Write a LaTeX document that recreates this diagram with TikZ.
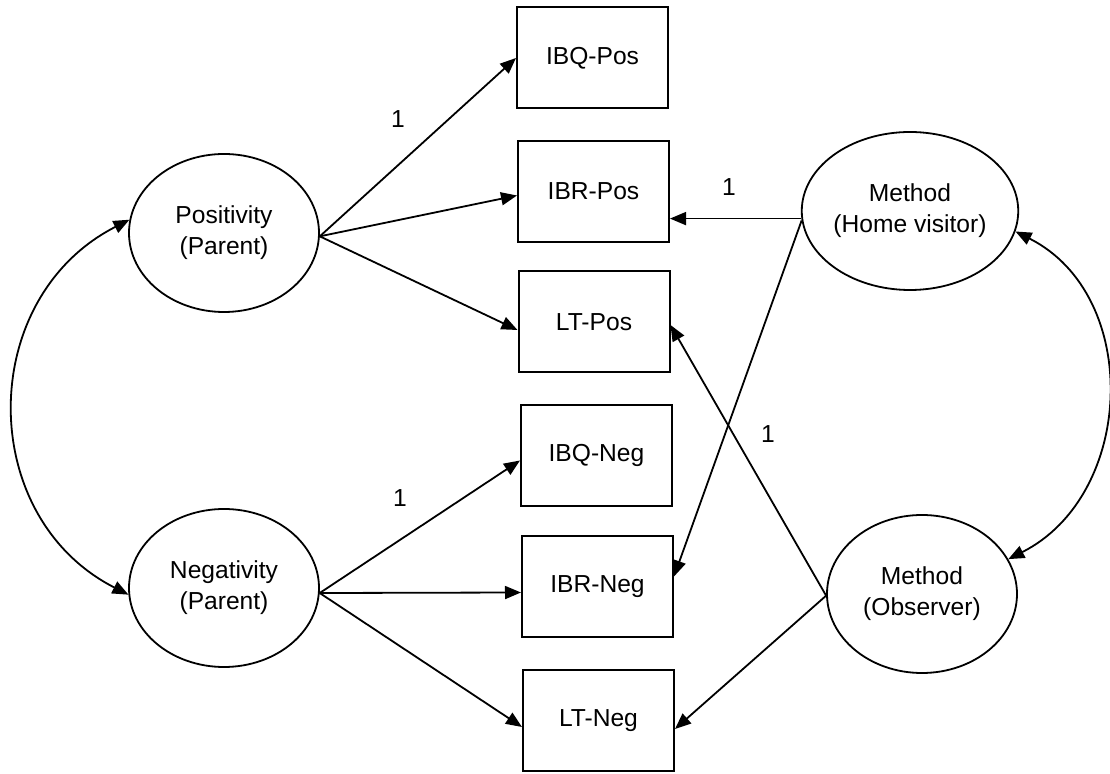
\documentclass[tikz,border=0pt]{standalone}
\usepackage{fontspec}
\setmainfont{Liberation Sans}
\usetikzlibrary{arrows.meta,calc,shapes.geometric}
\begin{document}
\begin{tikzpicture}[x=0.5pt,y=-0.5pt,
  latent/.style={ellipse, draw, line width=0.9pt, minimum width=95pt, minimum height=79pt, inner sep=0pt, align=center, font=\fontsize{12.3}{15.5}\selectfont},
  obsbox/.style={rectangle, draw, line width=1pt, minimum width=75.5pt, minimum height=50.5pt, inner sep=0pt, font=\fontsize{12.3}{15.5}\selectfont},
  link/.style={line width=0.9pt, -{Triangle[length=8pt,width=6.5pt]}},
  covar/.style={line width=0.9pt, {Triangle[length=8pt,width=6.5pt]}-{Triangle[length=8pt,width=6.5pt]}},
  lbl/.style={font=\fontsize{12.3}{15.5}\selectfont, inner sep=0pt}
]
\useasboundingbox (0,0) rectangle (1110,774);

% latent variables
\node[latent] (pos)  at (224,233) {Positivity\\(Parent)};
\node[latent] (neg)  at (224,588) {Negativity\\(Parent)};
\node[latent] (home) at (910,211) {Method\\(Home visitor)};
\node[latent] (obs)  at (922,594) {Method\\(Observer)};

% observed variables
\node[obsbox] (ibqp) at (592.5,58)   {IBQ-Pos};
\node[obsbox] (ibrp) at (593.5,191.5) {IBR-Pos};
\node[obsbox] (ltp)  at (594,322)    {LT-Pos};
\node[obsbox] (ibqn) at (596.5,455.5) {IBQ-Neg};
\node[obsbox] (ibrn) at (597.5,586.5) {IBR-Neg};
\node[obsbox] (ltn)  at (598.5,721)  {LT-Neg};

% loadings
\draw[link] (pos.-2) -- (ibqp.west);
\draw[link] (pos.-2) -- ($(ibrp.west)+(0,4)$);
\draw[link] (pos.-2) -- ($(ltp.west)+(0,8)$);
\draw[link] (neg.-3) -- ($(ibqn.west)+(0,5)$);
\draw[link] (neg.-3) -- ($(ibrn.west)+(0,6)$);
\draw[link] (neg.-3) -- ($(ltn.west)+(0,6)$);
\draw[link] (home.184) -- (home.184 -| ibrp.east);
\draw[link] (home.185) -- ($(ibrn.east)+(0,-10)$);
\draw[link] (obs.181) -- ($(ltp.east)+(0,3)$);
\draw[link] (obs.181) -- ($(ltn.east)+(0,8)$);

% covariances
\draw[covar] (pos.172) .. controls +(-153,78) and +(-153,-78) .. (neg.184);
\draw[covar] (home.-11) .. controls +(127,64) and +(127,-64) .. (obs.22);

% fixed loadings
\node[lbl] (l1) at (398,119) {1};
\node[lbl] (l2) at (400,498) {1};
\node[lbl] (l3) at (729,187) {1};
\node[lbl] (l4) at (768,434) {1};
\end{tikzpicture}
\end{document}
